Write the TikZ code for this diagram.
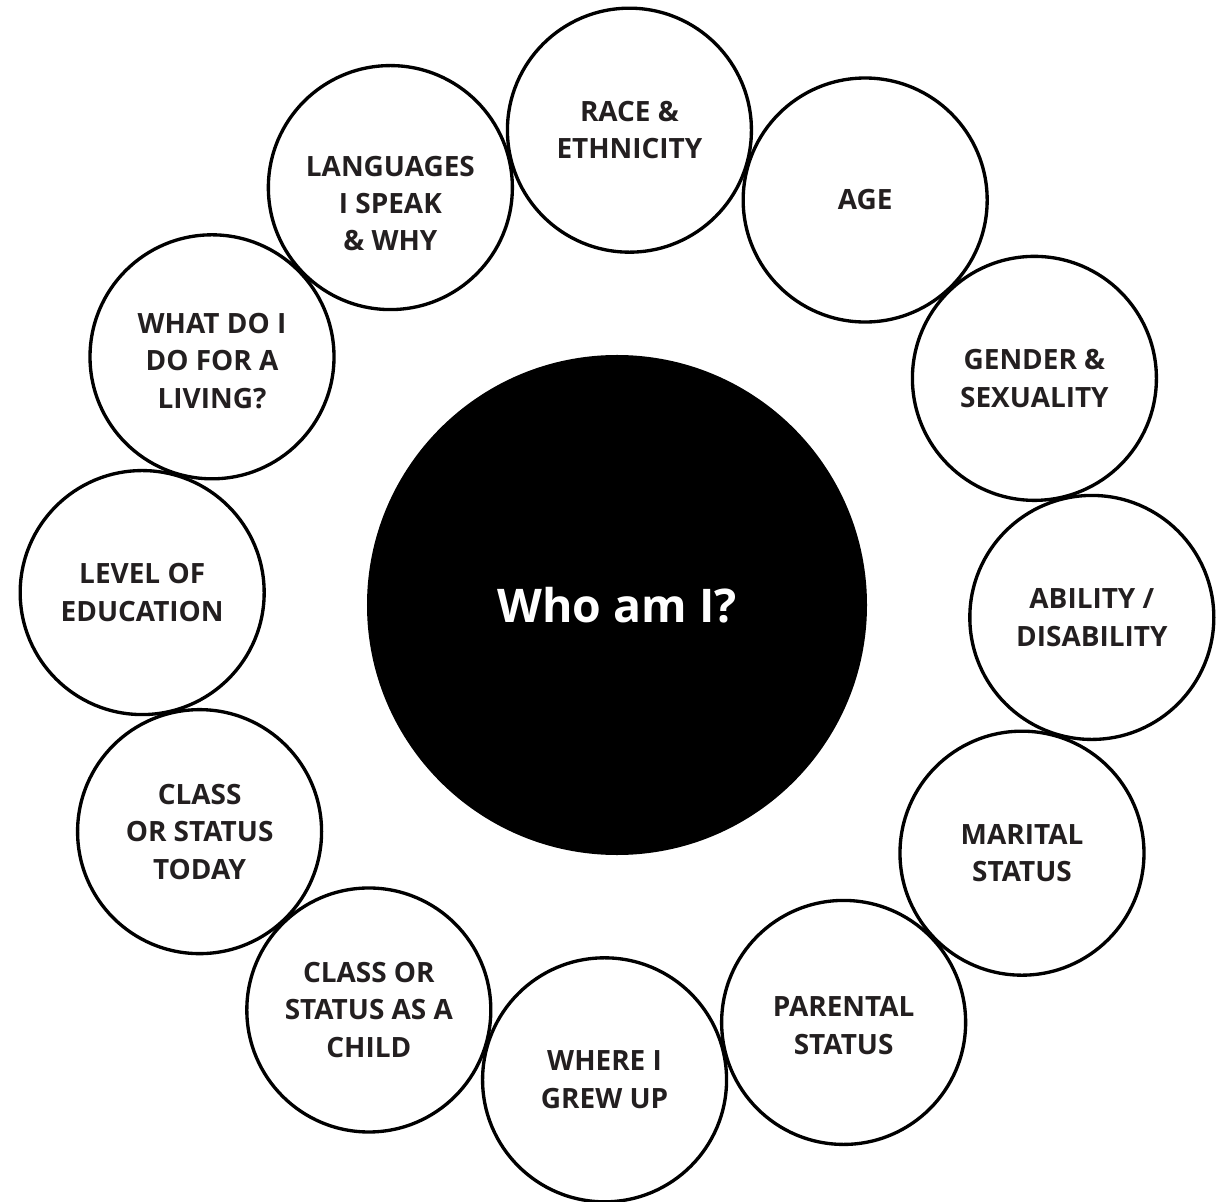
\documentclass[tikz,border=0pt]{standalone}
\usepackage{fontspec}
\setmainfont{Open Sans}
\usepackage{xcolor}
\definecolor{textcolor}{HTML}{231F20}
\usepackage{tikz}
\usetikzlibrary{positioning}
\tikzset{
    topic/.style={
        circle,
        draw=black,
        line width=1.9pt,
        minimum size=4.88cm,
        inner sep=0pt,
    },
    topiclabel/.style={
        text=textcolor,
        font=\bfseries\fontsize{15.9}{21.3}\selectfont,
        align=center,
    },
    core/.style={
        circle,
        fill=black,
        minimum size=10cm,
        inner sep=0pt,
        text=white,
        font=\bfseries\fontsize{26.4}{32}\selectfont,
    },
}
\begin{document}
\begin{tikzpicture}
    \useasboundingbox (-12.34,-11.92) rectangle (12.12,12.10);

    % Centre
    \node[core] (who) at (0,0) {Who am I?};

    % Ring of topics (clockwise from the top)
    \foreach \i/\dy/\txt in {
        0/0/{RACE \&\\ETHNICITY},
        1/0/{AGE},
        2/0/{GENDER \&\\SEXUALITY},
        3/0/{ABILITY /\\DISABILITY},
        4/0/{MARITAL\\STATUS},
        5/-0.06/{PARENTAL\\STATUS},
        6/0/{WHERE I\\GREW UP},
        7/0/{CLASS OR\\STATUS AS A\\CHILD},
        8/0/{CLASS\\OR STATUS\\TODAY},
        9/0/{LEVEL OF\\EDUCATION},
        10/-0.08/{WHAT DO I\\DO FOR A\\LIVING?},
        11/-0.32/{LANGUAGES\\I SPEAK\\\& WHY}} {
        \pgfmathsetmacro{\ang}{88.5-30*\i}
        \node[topic] (t-\i) at (\ang:9.5) {};
        \node[topiclabel, yshift=\dy cm] (l-\i) at (t-\i) {\txt};
    }
\end{tikzpicture}
\end{document}
